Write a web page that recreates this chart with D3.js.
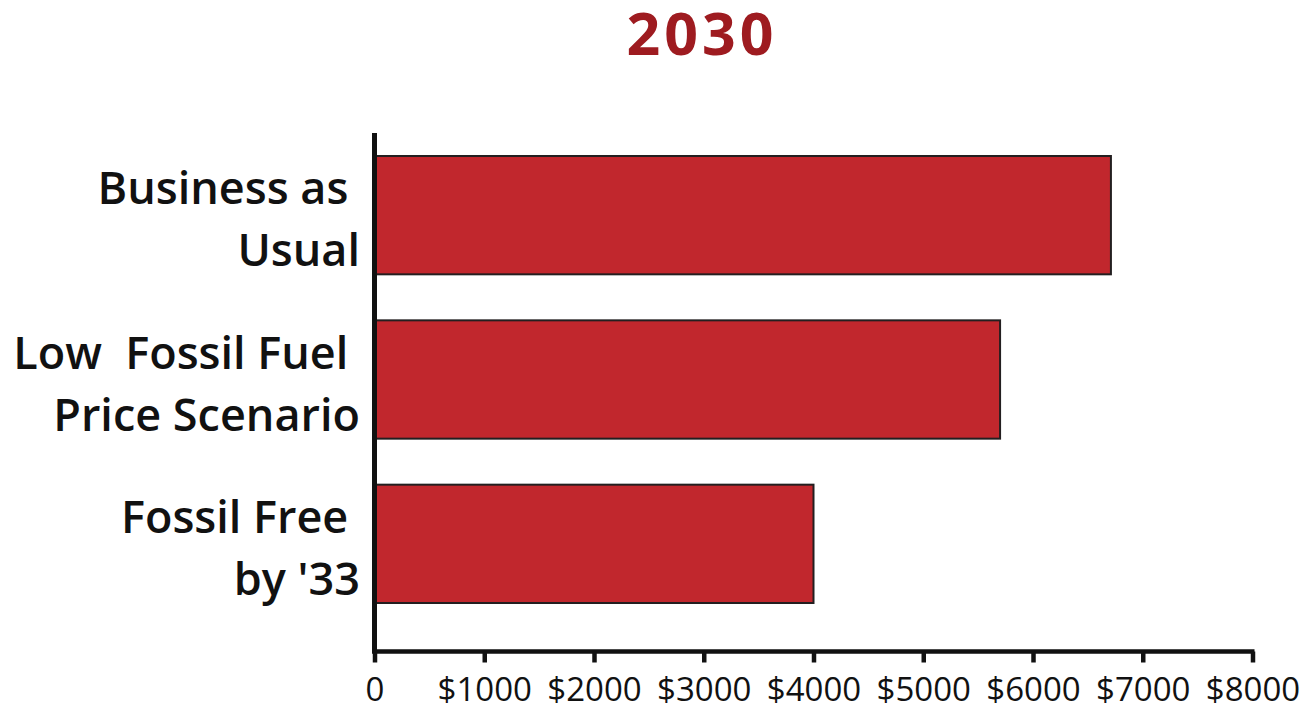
<!DOCTYPE html>
<html>
<head>
<meta charset="utf-8">
<script src="https://cdn.jsdelivr.net/npm/d3@7"></script>
<style>
  html, body { margin: 0; padding: 0; background: #ffffff; }
  svg { display: block; }
  text { font-family: "Open Sans", "Noto Sans", sans-serif; }
</style>
</head>
<body>
<svg id="chart" width="1306" height="707"></svg>
<script>
// Scenario cost in 2030
const title = "2030";
const categories = ["Business as Usual", "Low Fossil Fuel Price Scenario", "Fossil Free by '33"];
const labelLines = [["Business as ", "Usual"], ["Low  Fossil Fuel ", "Price Scenario"], ["Fossil Free ", "by '33"]];
const values = [6710, 5700, 4000];
const tickValues = [0, 1000, 2000, 3000, 4000, 5000, 6000, 7000, 8000];
const tickLabels = ["0", "$1000", "$2000", "$3000", "$4000", "$5000", "$6000", "$7000", "$8000"];

const svg = d3.select("#chart");

const x = d3.scaleLinear().domain([0, 8000]).range([374.5, 1252.5]);
const y = d3.scaleBand().domain(categories).range([133, 626]).paddingInner(0.28).paddingOuter(0.14);

const barFill = "#c1272d";
const ink = "#111111";

// Title
svg.append("text")
  .attr("x", 702).attr("y", 55)
  .attr("text-anchor", "middle")
  .attr("font-size", 59).attr("font-weight", 700)
  .attr("letter-spacing", 4)
  .attr("fill", "#9e1b20")
  .text(title);

// Bars
svg.append("g").selectAll("rect")
  .data(categories)
  .join("rect")
  .attr("x", x(0))
  .attr("y", d => y(d))
  .attr("width", (d, i) => x(values[i]) - x(0))
  .attr("height", y.bandwidth())
  .attr("fill", barFill)
  .attr("stroke", "#231f20")
  .attr("stroke-width", 2);

// Category labels, two lines each, right-aligned against the axis
const lab = svg.append("g");
categories.forEach((c, i) => {
  const cy = y(c) + y.bandwidth() / 2;
  const t = lab.append("text")
    .attr("text-anchor", "end")
    .attr("font-size", 45).attr("font-weight", 600)
    .attr("fill", ink)
    .style("white-space", "pre")
    .attr("xml:space", "preserve");
  t.append("tspan").attr("x", 360).attr("y", cy - 11).text(labelLines[i][0]);
  t.append("tspan").attr("x", 360).attr("y", cy + 51).text(labelLines[i][1]);
});

// X axis
const xAxis = d3.axisBottom(x)
  .tickValues(tickValues)
  .tickFormat((d, i) => tickLabels[i])
  .tickSize(11)
  .tickSizeOuter(0);

const gx = svg.append("g")
  .attr("transform", "translate(0,651.5)")
  .call(xAxis);
gx.select(".domain").attr("stroke", ink).attr("stroke-width", 4.5)
  .attr("d", `M${x(0) - 2.5},0H${x(8000) + 2}`);
gx.selectAll(".tick line").attr("stroke", ink).attr("stroke-width", 4.5);
gx.selectAll(".tick text")
  .attr("y", 49).attr("dy", 0)
  .attr("font-size", 33)
  .attr("font-family", "\"Open Sans\", sans-serif")
  .attr("fill", ink);

// Y axis line
svg.append("line")
  .attr("x1", x(0)).attr("x2", x(0))
  .attr("y1", 133).attr("y2", 653)
  .attr("stroke", ink).attr("stroke-width", 5);
</script>
</body>
</html>
